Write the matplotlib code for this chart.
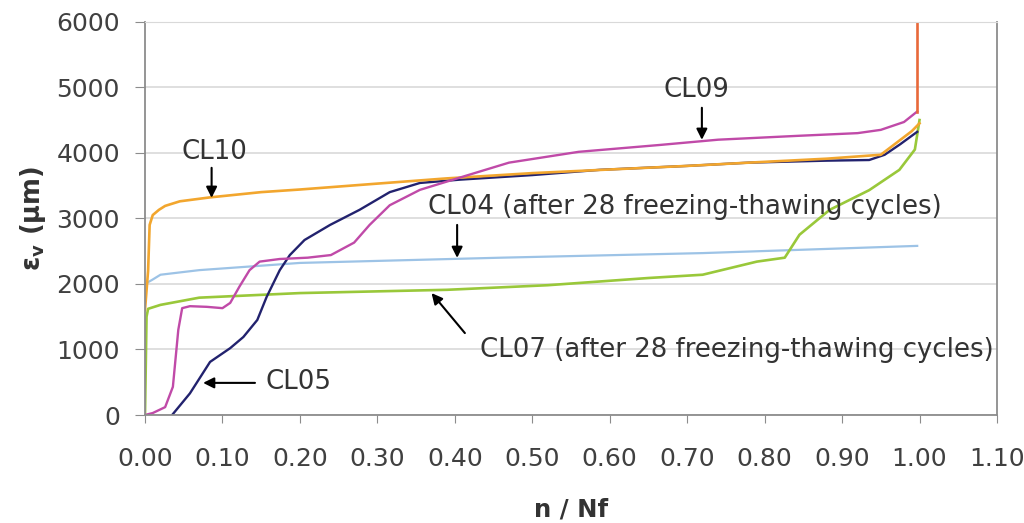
import matplotlib.pyplot as plt

plt.rcParams['font.family'] = ['DejaVu Sans']

# CL10
cl10_x = [0.000, 0.004, 0.006, 0.010, 0.018, 0.026, 0.045, 0.084, 0.15, 0.20, 0.30, 0.39,
          0.50, 0.59, 0.70, 0.78, 0.88, 0.95, 0.97, 0.99, 1.00]
cl10_y = [1600, 2200, 2900, 3050, 3130, 3190, 3260, 3320, 3400, 3440, 3530, 3610,
          3690, 3740, 3800, 3850, 3910, 3970, 4150, 4330, 4450]
# CL09
cl09_x = [0.000, 0.010, 0.026, 0.036, 0.043, 0.048, 0.058, 0.080, 0.100, 0.110, 0.122, 0.135,
          0.148, 0.174, 0.210, 0.240, 0.270, 0.290, 0.316, 0.355, 0.406, 0.470, 0.560, 0.665,
          0.740, 0.845, 0.920, 0.950, 0.980, 0.997]
cl09_y = [0, 30, 120, 430, 1300, 1630, 1660, 1650, 1630, 1710, 1960, 2210,
          2340, 2380, 2400, 2440, 2630, 2900, 3200, 3435, 3620, 3850, 4015, 4120,
          4200, 4260, 4300, 4350, 4470, 4630]
# CL05
cl05_x = [0.035, 0.058, 0.084, 0.110, 0.127, 0.145, 0.157, 0.174, 0.187, 0.206, 0.239, 0.277,
          0.316, 0.355, 0.406, 0.500, 0.587, 0.700, 0.780, 0.880, 0.935, 0.955, 0.975, 0.997]
cl05_y = [0, 330, 810, 1020, 1190, 1450, 1800, 2210, 2440, 2670, 2900, 3130,
          3400, 3540, 3590, 3660, 3740, 3800, 3850, 3880, 3890, 3970, 4130, 4320]
# CL04 (after 28 freezing-thawing cycles)
cl04_x = [0.003, 0.009, 0.020, 0.070, 0.200, 0.460, 0.720, 0.997]
cl04_y = [2020, 2060, 2140, 2210, 2320, 2400, 2470, 2580]
# CL07 (after 28 freezing-thawing cycles)
cl07_x = [0.000, 0.002, 0.004, 0.020, 0.070, 0.200, 0.390, 0.520, 0.650, 0.720, 0.790, 0.826,
          0.845, 0.884, 0.935, 0.974, 0.994, 1.000]
cl07_y = [0, 1500, 1620, 1680, 1790, 1860, 1910, 1980, 2090, 2140, 2340, 2400,
          2750, 3130, 3430, 3740, 4050, 4500]
# failure spike at n/Nf = 1
spike_x = [0.997, 0.997]
spike_y = [4630, 6000]

fig = plt.figure(figsize=(10.24, 5.23), dpi=100)
ax = fig.add_axes([0.1416, 0.2065, 0.832, 0.752])

ax.plot(cl04_x, cl04_y, color='#9DC3E6', lw=1.6)
ax.plot(cl07_x, cl07_y, color='#99C83A', lw=1.9)
ax.plot(cl05_x, cl05_y, color='#22226E', lw=1.7)
ax.plot(cl10_x, cl10_y, color='#F2A62E', lw=1.9)
ax.plot(cl09_x, cl09_y, color='#C04AA8', lw=1.7)
ax.plot(spike_x, spike_y, color='#E8693A', lw=1.9)

ax.set_xlim(0, 1.10)
ax.set_ylim(0, 6000)
ax.set_xticks([i / 10 for i in range(12)])
ax.set_xticklabels(['%.2f' % (i / 10) for i in range(12)])
ax.set_yticks(range(0, 7000, 1000))
ax.grid(axis='y', color='#D9D9D9', lw=1.2)
ax.set_axisbelow(True)
for s in ['left', 'bottom', 'right']:
    ax.spines[s].set_color('#8C8C8C')
    ax.spines[s].set_linewidth(1.3)
ax.spines['top'].set_color('#D9D9D9')
ax.tick_params(axis='both', direction='out', color='#8C8C8C',
               labelsize=18, labelcolor='#404040')
ax.tick_params(axis='y', length=7, pad=11)
ax.tick_params(axis='x', length=6, pad=17)

ax.set_xlabel('n / Nf', fontsize=17.5, fontweight='bold', color='#333333', labelpad=19)
ax.set_ylabel(r'ε$_\mathregular{v}$ (μm)', fontsize=18.5, fontweight='bold', color='#333333', labelpad=6)

arrow = dict(arrowstyle='-|>', color='black', lw=1.5, mutation_scale=16, shrinkA=0, shrinkB=0)
fs = 18.7
ax.annotate('', xy=(0.086, 3313), xytext=(0.086, 3771), arrowprops=arrow)
ax.text(0.09, 4015, 'CL10', fontsize=fs, color='#333333', ha='center', va='center')
ax.annotate('', xy=(0.719, 4198), xytext=(0.719, 4687), arrowprops=arrow)
ax.text(0.712, 4962, 'CL09', fontsize=fs, color='#333333', ha='center', va='center')
ax.annotate('', xy=(0.403, 2397), xytext=(0.403, 2900), arrowprops=arrow)
ax.text(0.365, 3175, 'CL04 (after 28 freezing-thawing cycles)', fontsize=fs, color='#333333',
        ha='left', va='center')
ax.annotate('', xy=(0.37, 1860), xytext=(0.413, 1250), arrowprops=arrow)
ax.text(0.432, 990, 'CL07 (after 28 freezing-thawing cycles)', fontsize=fs, color='#333333',
        ha='left', va='center')
ax.annotate('', xy=(0.075, 490), xytext=(0.142, 490), arrowprops=arrow)
ax.text(0.155, 500, 'CL05', fontsize=fs, color='#333333', ha='left', va='center')

fig.savefig('out.png', dpi=100)
